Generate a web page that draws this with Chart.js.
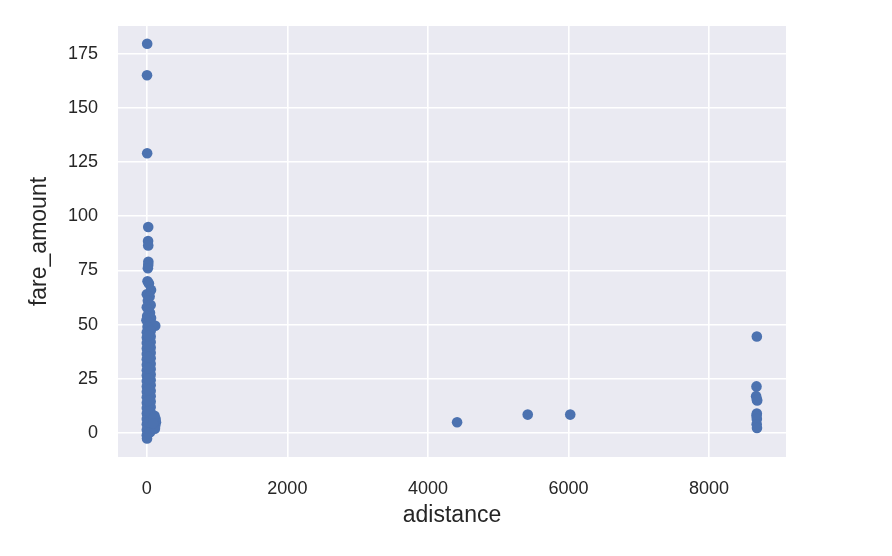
<!DOCTYPE html>
<html lang="en">
<head>
  <meta charset="UTF-8" />
  <title>fare_amount vs adistance</title>
  <script src="https://cdn.jsdelivr.net/npm/chart.js"></script>
  <style>
    body {
      margin: 0;
      background: #ffffff;
    }
    canvas {
      display: block;
    }
  </style>
</head>
<body>
  <canvas id="scatterChart" width="892" height="556"></canvas>

  <script>
    // tick labels
    const xTicks = [0, 2000, 4000, 6000, 8000];
    const yTicks = [0, 25, 50, 75, 100, 125, 150, 175];

    // trips near zero distance [adistance, fare_amount]
    const shortTrips = [
      [5, 179.5], [3, 165], [5, 129], [20, 95], [18, 88.5], [20, 86.5],
      [22, 79], [20, 77.5], [15, 76], [10, 70], [30, 69], [60, 66],
      [0, 64], [40, 63], [15, 61], [55, 59], [0, 58], [25, 57],
      [45, 55.5], [5, 54], [60, 53], [-5, 52], [30, 51], [120, 49.5],
      [80, 50], [10, 49],
      [0, 46.5], [0, 44], [0, 41.5], [0, 39], [0, 36.5], [0, 34],
      [0, 31.5], [0, 29], [0, 26.5], [0, 24], [0, 21.5], [0, 19],
      [0, 16.5], [0, 14], [0, 11.5], [0, 9], [0, 6.5], [0, 4],
      [0, 1.5], [0, -1], [3, -2.5],
      [55, 47], [55, 44.5], [55, 42], [55, 39.5], [55, 37], [55, 34.5],
      [55, 32], [55, 29.5], [55, 27], [55, 24.5], [55, 22], [55, 19.5],
      [55, 17], [55, 14.5], [55, 12], [55, 9.5], [55, 7], [55, 4.5],
      [55, 2], [50, 0.5],
      [25, 45], [25, 40], [25, 35], [25, 30], [25, 25], [25, 20],
      [25, 15], [25, 10], [25, 5], [25, 0],
      [110, 8], [125, 6.5], [130, 5], [120, 3.5], [115, 2], [100, 7], [90, 4.5]
    ];

    // isolated trips in the middle
    const midTrips = [
      [4415, 5], [5420, 8.5], [6025, 8.5]
    ];

    // trips around 8700
    const longTrips = [
      [8680, 44.5], [8675, 21.5], [8670, 17], [8680, 15.5], [8685, 15],
      [8680, 9], [8675, 8], [8680, 6.5], [8678, 4], [8682, 2.3]
    ];

    const allPoints = shortTrips.concat(midTrips, longTrips)
      .map(p => ({ x: p[0], y: p[1] }));

    // seaborn style grey plot area
    const plotBackground = {
      id: 'plotBackground',
      beforeDraw(chart) {
        const { ctx, chartArea } = chart;
        ctx.save();
        ctx.fillStyle = '#eaeaf2';
        ctx.fillRect(chartArea.left, chartArea.top,
          chartArea.right - chartArea.left, chartArea.bottom - chartArea.top);
        ctx.restore();
      }
    };

    const textColor = '#262626';
    const fontFamily = "'Liberation Sans', Arial, sans-serif";

    const ctx = document.getElementById('scatterChart').getContext('2d');
    new Chart(ctx, {
      type: 'scatter',
      data: {
        datasets: [{
          label: 'fare_amount',
          data: allPoints,
          backgroundColor: '#4c72b0',
          borderWidth: 0,
          pointRadius: 5.3,
          pointHoverRadius: 5.3
        }]
      },
      plugins: [plotBackground],
      options: {
        responsive: false,
        animation: false,
        layout: {
          padding: { left: 0, right: 106, top: 26, bottom: 0 }
        },
        plugins: {
          legend: { display: false },
          tooltip: { enabled: false }
        },
        scales: {
          x: {
            type: 'linear',
            min: -410,
            max: 9095,
            afterBuildTicks: axis => {
              axis.ticks = xTicks.map(v => ({ value: v }));
            },
            afterFit: axis => { axis.height = 99; },
            border: { display: false },
            grid: { color: '#ffffff', lineWidth: 1.6, drawTicks: false },
            ticks: {
              color: textColor,
              padding: 21,
              font: { family: fontFamily, size: 18 },
              callback: v => String(v)
            },
            title: {
              display: true,
              text: 'adistance',
              color: textColor,
              padding: { top: 0, bottom: 27 },
              font: { family: fontFamily, size: 23 }
            }
          },
          y: {
            type: 'linear',
            min: -11.05,
            max: 187.7,
            afterBuildTicks: axis => {
              axis.ticks = yTicks.map(v => ({ value: v }));
            },
            afterFit: axis => { axis.width = 118; },
            border: { display: false },
            // invisible tick marks give the gap between labels and plot
            grid: {
              color: '#ffffff', lineWidth: 1.6,
              drawTicks: true, tickLength: 20, tickColor: 'rgba(0,0,0,0)'
            },
            ticks: {
              color: textColor,
              padding: 0,
              font: { family: fontFamily, size: 18 },
              callback: v => String(v)
            },
            title: {
              display: true,
              text: 'fare_amount',
              color: textColor,
              padding: { top: 26, bottom: 0 },
              font: { family: fontFamily, size: 23 }
            }
          }
        }
      }
    });
  </script>
</body>
</html>
